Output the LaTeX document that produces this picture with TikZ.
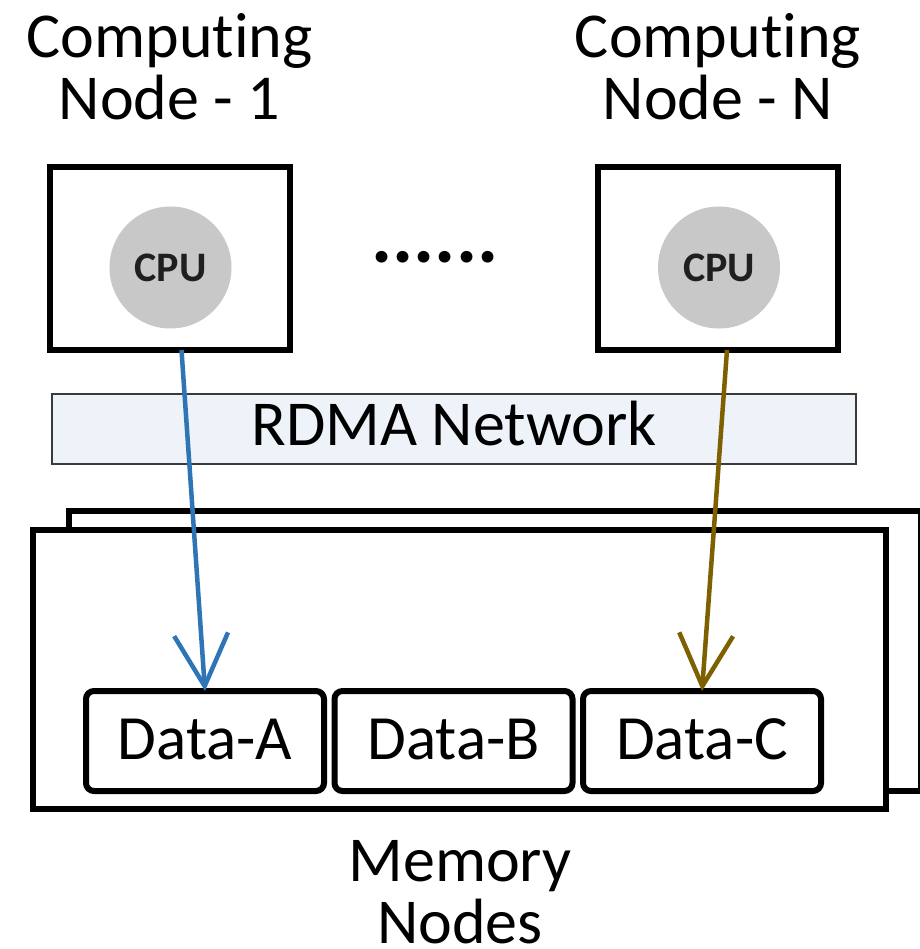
\documentclass[tikz,border=0pt]{standalone}
\usepackage{fontspec}
\setmainfont[Ligatures=NoCommon]{Carlito}
\usetikzlibrary{arrows.meta,calc}

\definecolor{cpugray}{HTML}{C8C8C8}
\definecolor{netfill}{HTML}{EEF3FA}
\definecolor{netline}{HTML}{3A3A3A}
\definecolor{linkblue}{HTML}{2E75B6}
\definecolor{linkgold}{HTML}{7F6000}

\tikzset{
  title/.style={align=center, font=\fontsize{64}{62}\selectfont, anchor=base,
    inner sep=0pt, text depth=0pt},
  compbox/.style={draw, line width=6pt, fill=white, minimum width=240pt,
    minimum height=183pt, outer sep=0pt, inner sep=0pt},
  cpu/.style={circle, fill=cpugray, minimum size=122pt, inner sep=0pt,
    text=black!88, font=\fontsize{42}{42}\selectfont\bfseries},
  membox/.style={draw, line width=6pt, fill=white, outer sep=0pt},
  databox/.style={draw, line width=6pt, rounded corners=8pt, fill=white,
    minimum width=238pt, minimum height=100pt, inner sep=0pt, outer sep=0pt,
    font=\fontsize{63}{63}\selectfont, text height=36pt, text depth=0pt},
  netbar/.style={draw=netline, line width=2pt, fill=netfill,
    minimum width=804pt, minimum height=70pt, inner sep=0pt,
    font=\fontsize{64}{64}\selectfont, text height=32pt, text depth=0pt},
  link/.style={line width=4.5pt,
    -{Straight Barb[length=52pt, width=54pt]}},
}

\begin{document}
\begin{tikzpicture}[x=1pt, y=-1pt]
  \useasboundingbox (0,0) rectangle (919,949);

  % memory node stack: back sheet, then front sheet
  \draw[line width=6pt, fill=white] (69,511) rectangle (921,791);
  \node[membox, minimum width=853pt, minimum height=279pt] (mem) at (459.5,669.5) {};

  % data blocks held by the memory nodes
  \node[databox] (dA) at (205,741) {Data-A};
  \node[databox] (dB) at (453.5,741) {Data-B};
  \node[databox] (dC) at (702,741) {Data-C};

  \node[title] (memlabel) at (460,943) {Memory\\Nodes};

  % interconnect
  \node[netbar] (net) at (454,429) {RDMA Network};

  % computing nodes
  \node[compbox] (n1) at (169.5,258.5) {};
  \node[compbox] (nN) at (718,258.5) {};
  \node[cpu] (cpu1) at (170.5,267.5) {CPU};
  \node[cpu] (cpuN) at (719,267.5) {CPU};
  \node[font=\fontsize{79}{79}\selectfont\bfseries, anchor=base, inner sep=0pt]
    (dots) at (435,263) {......};

  \node[title] (t1) at (169.5,120) {Computing\\Node - 1};
  \node[title] (tN) at (718,120) {Computing\\Node - N};

  % remote memory accesses
  \draw[link, linkblue] ($(n1.south)+(12,0)$) -- (dA.north);
  \draw[link, linkgold] ($(nN.south)+(9,0)$) -- (dC.north);
\end{tikzpicture}
\end{document}
